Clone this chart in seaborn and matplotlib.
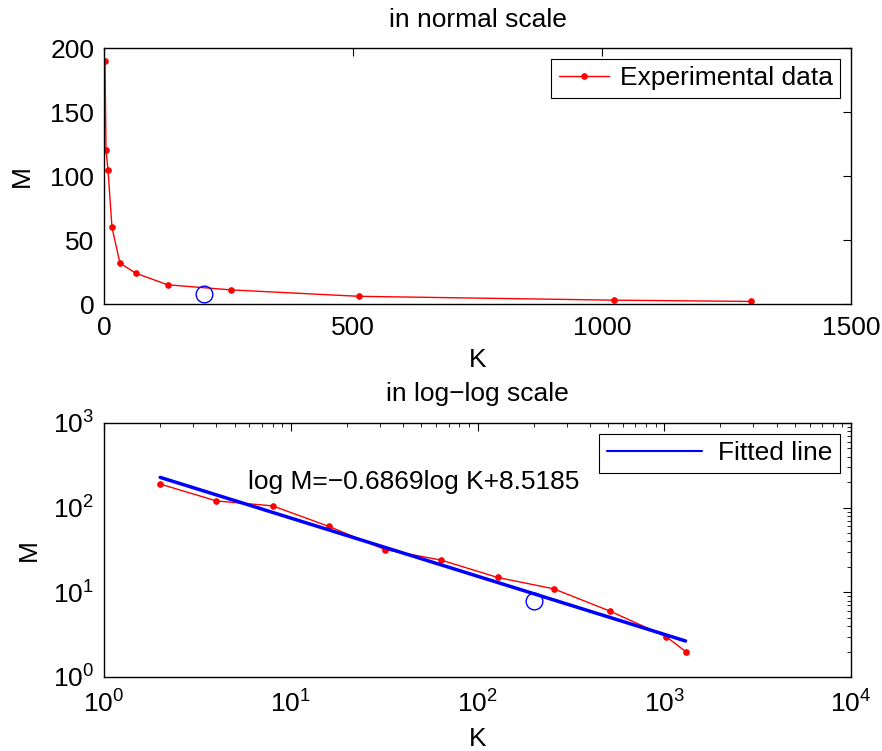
import numpy as np
import pandas as pd
import matplotlib
matplotlib.use("Agg")
import matplotlib.pyplot as plt
import seaborn as sns
from matplotlib.ticker import LogLocator, NullFormatter

K = [2, 4, 8, 16, 32, 64, 128, 256, 512, 1024, 1300]
M = [190, 120, 105, 60, 32, 24, 15, 11, 6, 3, 2]
K_mark = [200]
M_mark = [8]
slope = -0.6869
intercept = 8.5185
fit_K = [2, 1300]

FS = 19

sns.set_style("white")
plt.rcParams['font.family'] = ['Liberation Sans', 'DejaVu Sans']
plt.rcParams['mathtext.fontset'] = 'custom'
plt.rcParams['mathtext.rm'] = 'Liberation Sans'
plt.rcParams['mathtext.it'] = 'Liberation Sans'
plt.rcParams['font.size'] = FS
plt.rcParams['text.color'] = 'black'
plt.rcParams['axes.labelcolor'] = 'black'
plt.rcParams['xtick.color'] = 'black'
plt.rcParams['ytick.color'] = 'black'

df = pd.DataFrame({"K": K, "M": M})
fit_M = [2 ** (slope * np.log2(k) + intercept) for k in fit_K]
df_fit = pd.DataFrame({"K": fit_K, "M": fit_M})

W, H = 882, 751
fig = plt.figure(figsize=(W/100, H/100), dpi=100)
ax1 = fig.add_axes([104/W, 1-304/H, (851-104)/W, (304-48)/H])
ax2 = fig.add_axes([104/W, 1-677/H, (851-104)/W, (677-423)/H])

def style(ax, xpad):
    for s in ax.spines.values():
        s.set_color('black')
        s.set_linewidth(1.0)
    ax.tick_params(which='both', direction='in', top=True, right=True,
                   colors='black', labelsize=FS)
    ax.tick_params(axis='x', pad=xpad)
    ax.tick_params(axis='y', pad=7)
    ax.tick_params(which='major', length=6)
    ax.tick_params(which='minor', length=3)

# Top: normal scale
sns.lineplot(data=df, x="K", y="M", ax=ax1, color='red', marker='o',
             markersize=4, markeredgecolor='red', linewidth=1,
             label='Experimental data')
ax1.plot(K_mark, M_mark, 'o', markersize=12, markerfacecolor='none',
         markeredgecolor='blue', markeredgewidth=1)
ax1.set_xlim(0, 1500)
ax1.set_ylim(0, 200)
ax1.set_xticks([0, 500, 1000, 1500])
ax1.set_yticks([0, 50, 100, 150, 200])
style(ax1, 8.5)
ax1.set_xlabel('K', fontsize=FS, labelpad=6, color='black')
ax1.set_ylabel('M', fontsize=FS, labelpad=11.5, color='black')
ax1.set_title('in normal scale', fontsize=FS, pad=15, color='black')
leg1 = ax1.legend(loc='upper right', fancybox=False, edgecolor='black',
                  framealpha=1, fontsize=FS, handlelength=1.9, borderpad=0.3,
                  borderaxespad=0.4, handletextpad=0.4, labelcolor='black')
leg1.get_frame().set_linewidth(0.8)

# Bottom: log-log
sns.lineplot(data=df, x="K", y="M", ax=ax2, color='red', marker='o',
             markersize=4, markeredgecolor='red', linewidth=1, legend=False)
sns.lineplot(data=df_fit, x="K", y="M", ax=ax2, color='blue', linewidth=2.5,
             label='Fitted line')
ax2.plot(K_mark, M_mark, 'o', markersize=12, markerfacecolor='none',
         markeredgecolor='blue', markeredgewidth=1)
ax2.set_xscale('log')
ax2.set_yscale('log')
ax2.set_xlim(1, 1e4)
ax2.set_ylim(1, 1e3)
ax2.xaxis.set_major_locator(LogLocator(base=10, numticks=10))
ax2.yaxis.set_major_locator(LogLocator(base=10, numticks=10))
ax2.xaxis.set_minor_locator(LogLocator(base=10, subs=np.arange(2, 10), numticks=20))
ax2.yaxis.set_minor_locator(LogLocator(base=10, subs=np.arange(2, 10), numticks=20))
ax2.xaxis.set_minor_formatter(NullFormatter())
ax2.yaxis.set_minor_formatter(NullFormatter())
style(ax2, 9.5)
ax2.set_xlabel('K', fontsize=FS, labelpad=7, color='black')
ax2.set_ylabel('M', fontsize=FS, labelpad=9, color='black')
ax2.set_title('in log\u2212log scale', fontsize=FS, pad=16, color='black')
ax2.text(5.9, 200, 'log M=\u22120.6869log K+8.5185', fontsize=FS,
         ha='left', va='center', color='black')
leg2 = ax2.legend(loc='upper right', fancybox=False, edgecolor='black',
                  framealpha=1, fontsize=FS, handlelength=3.6, borderpad=0.3,
                  borderaxespad=0.4, handletextpad=0.6, labelcolor='black')
leg2.get_frame().set_linewidth(0.8)
for l in leg2.get_lines():
    l.set_linewidth(1.5)

fig.savefig('out.png', dpi=100)
